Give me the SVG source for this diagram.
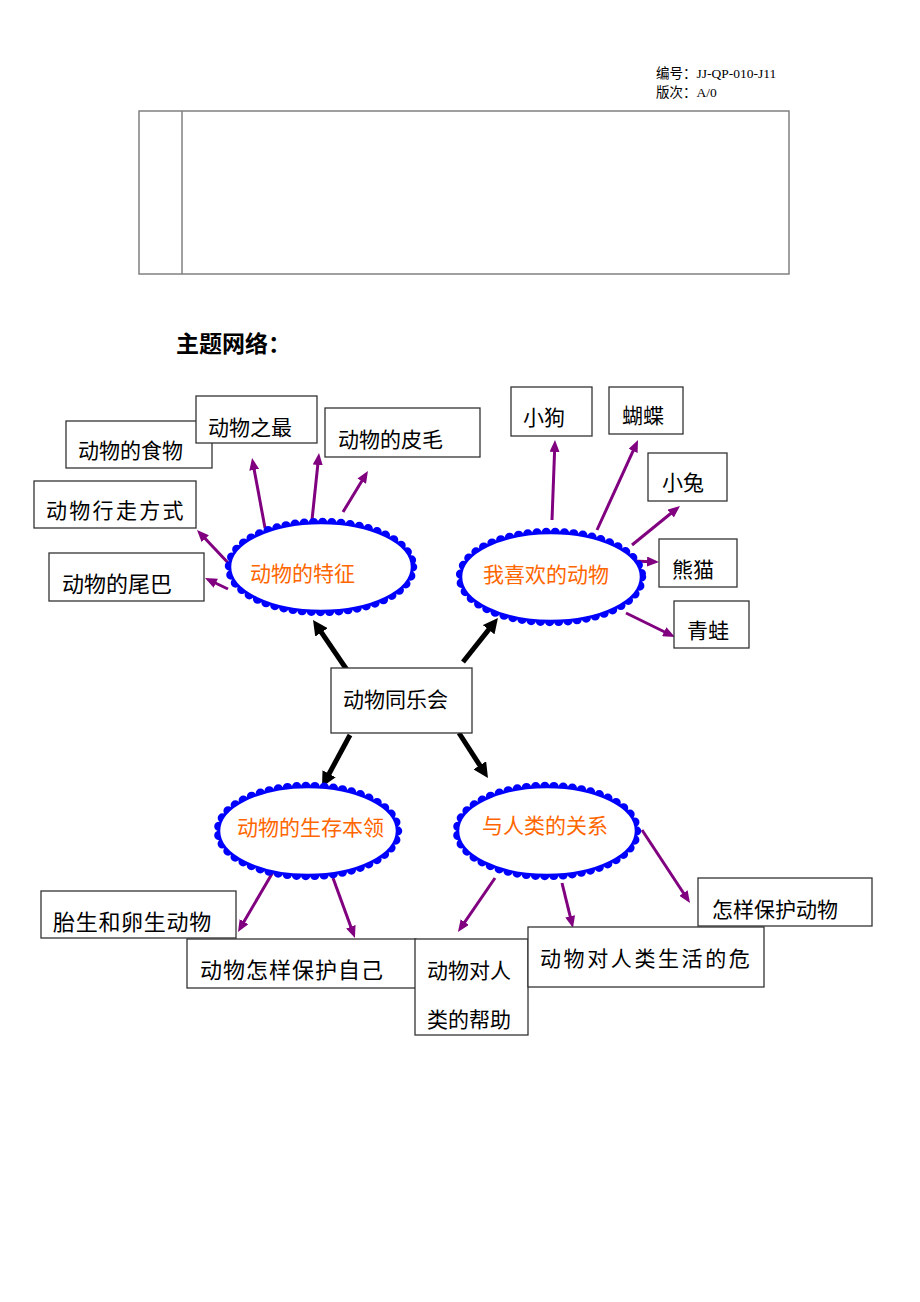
<svg xmlns="http://www.w3.org/2000/svg" width="920" height="1302" viewBox="0 0 920 1302">
<style>
.hdr{font-family:"Liberation Serif","Noto Sans CJK SC",serif;font-size:13.5px;fill:#000}
.title{font-family:"Noto Sans CJK SC",sans-serif;font-size:23px;font-weight:bold;fill:#000}
.box{fill:#fff;stroke:#333;stroke-width:1.3}
.bt{font-family:"Noto Sans CJK SC",sans-serif;font-size:21px;fill:#000}
.bt2{font-family:"Noto Sans CJK SC",sans-serif;font-size:22px;fill:#000}
.et{font-family:"Noto Sans CJK SC",sans-serif;font-size:21px;fill:#FF6600}
.dots{fill:none;stroke:#0000FF;stroke-width:9.5;stroke-dasharray:0 9.2;stroke-linecap:round}
.ell{fill:#fff;stroke:#0000FF;stroke-width:2.5}
.pl{stroke:#800080;stroke-width:3;fill:none;marker-end:url(#pa)}
.bl{stroke:#000;stroke-width:5;fill:none;marker-end:url(#ba)}
.tbl{fill:none;stroke:#808080;stroke-width:1.5}
</style>
<defs>
<marker id="pa" markerUnits="userSpaceOnUse" markerWidth="12" markerHeight="10" refX="4" refY="5" orient="auto"><path d="M0,0 L12,5 L0,10 z" fill="#800080"/></marker>
<marker id="ba" markerUnits="userSpaceOnUse" markerWidth="15" markerHeight="15" refX="4" refY="7.5" orient="auto"><path d="M0,0 L15,7.5 L0,15 z" fill="#000"/></marker>
</defs>
<rect width="920" height="1302" fill="#fff"/>
<g id="header">
<text class="hdr" x="656" y="78">编号：JJ-QP-010-J11</text>
<text class="hdr" x="656" y="97">版次：A/0</text>
</g>
<g id="table">
<rect class="tbl" x="139" y="111" width="650" height="163"/>
<line class="tbl" x1="182" y1="111" x2="182" y2="274"/>
</g>
<g id="title"><text class="title" x="176" y="352">主题网络：</text></g>

<g id="connectors">
<line class="pl" x1="265" y1="528" x2="253.5" y2="465.9"/>
<line class="pl" x1="312" y1="520" x2="318.2" y2="461"/>
<line class="pl" x1="343" y1="512" x2="363.8" y2="477.8"/>
<line class="pl" x1="232" y1="567" x2="202.5" y2="535.8"/>
<line class="pl" x1="228" y1="589" x2="212.2" y2="581.5"/>
<line class="pl" x1="552" y1="520" x2="554.7" y2="448"/>
<line class="pl" x1="597" y1="530" x2="634.7" y2="447.3"/>
<line class="pl" x1="632" y1="545" x2="673.8" y2="511"/>
<line class="pl" x1="633" y1="561" x2="651" y2="561.7"/>
<line class="pl" x1="626" y1="613" x2="667.8" y2="633.5"/>
<line class="pl" x1="273" y1="872" x2="242" y2="925.1"/>
<line class="pl" x1="333" y1="878" x2="352.2" y2="930.5"/>
<line class="pl" x1="495" y1="878" x2="462.5" y2="925.4"/>
<line class="pl" x1="562" y1="883" x2="571.1" y2="920.2"/>
<line class="pl" x1="642" y1="830" x2="685.6" y2="896.3"/>
<line class="bl" x1="347" y1="670" x2="319.2" y2="629.1"/>
<line class="bl" x1="463" y1="662" x2="491.1" y2="626.6"/>
<line class="bl" x1="350" y1="735" x2="327.2" y2="777.3"/>
<line class="bl" x1="459" y1="733" x2="482" y2="768.7"/>
</g>

<g id="e-tezheng">
<ellipse class="dots" cx="321" cy="567" rx="91.5" ry="44.5"/>
<ellipse class="ell" cx="321" cy="567" rx="91" ry="44"/>
<text class="et" x="250" y="581">动物的特征</text>
</g>
<g id="e-xihuan">
<ellipse class="dots" cx="551" cy="577" rx="90.5" ry="44.5"/>
<ellipse class="ell" cx="551" cy="577" rx="90" ry="44"/>
<text class="et" x="483" y="582">我喜欢的动物</text>
</g>
<g id="e-benling">
<ellipse class="dots" cx="308" cy="831" rx="89.5" ry="44.5"/>
<ellipse class="ell" cx="308" cy="831" rx="89" ry="44"/>
<text class="et" x="237" y="835">动物的生存本领</text>
</g>
<g id="e-guanxi">
<ellipse class="dots" cx="547" cy="831" rx="89.5" ry="44.5"/>
<ellipse class="ell" cx="547" cy="831" rx="89" ry="44"/>
<text class="et" x="482" y="833">与人类的关系</text>
</g>

<g id="center"><rect class="box" x="331" y="668" width="141" height="65"/><text class="bt" x="343" y="707">动物同乐会</text></g>

<g id="n-shiwu"><rect class="box" x="66" y="421" width="146" height="47"/><text class="bt" x="78" y="458">动物的食物</text></g>
<g id="n-zhizui"><rect class="box" x="196" y="396" width="121" height="47"/><text class="bt" x="208" y="435">动物之最</text></g>
<g id="n-pimao"><rect class="box" x="325" y="408" width="155" height="49"/><text class="bt" x="338" y="447">动物的皮毛</text></g>
<g id="n-xingzou"><rect class="box" x="34" y="481" width="162" height="47"/><text class="bt" x="46" y="518" letter-spacing="2.3">动物行走方式</text></g>
<g id="n-weiba"><rect class="box" x="49" y="553" width="155" height="48"/><text class="bt2" x="62" y="592">动物的尾巴</text></g>

<g id="n-xiaogou"><rect class="box" x="511" y="387" width="81" height="49"/><text class="bt" x="523" y="425">小狗</text></g>
<g id="n-hudie"><rect class="box" x="609" y="387" width="74" height="47"/><text class="bt" x="622" y="423">蝴蝶</text></g>
<g id="n-xiaotu"><rect class="box" x="648" y="453" width="79" height="48"/><text class="bt" x="662" y="490">小兔</text></g>
<g id="n-xiongmao"><rect class="box" x="659" y="539" width="78" height="48"/><text class="bt" x="672" y="577">熊猫</text></g>
<g id="n-qingwa"><rect class="box" x="674" y="601" width="75" height="47"/><text class="bt" x="687" y="638">青蛙</text></g>

<g id="n-taisheng"><rect class="box" x="41" y="891" width="195" height="47"/><text class="bt2" x="53" y="930" letter-spacing="0.7">胎生和卵生动物</text></g>
<g id="n-baohuziji"><rect class="box" x="187" y="939" width="229" height="49"/><text class="bt2" x="200" y="978" letter-spacing="1">动物怎样保护自己</text></g>
<g id="n-bangzhu"><rect class="box" x="415" y="939" width="113" height="96"/><text class="bt" x="427" y="978">动物对人</text><text class="bt" x="427" y="1027">类的帮助</text></g>
<g id="n-weihai"><rect class="box" x="528" y="927" width="236" height="60"/><text class="bt" x="540" y="966" letter-spacing="2.6">动物对人类生活的危</text></g>
<g id="n-baohudongwu"><rect class="box" x="698" y="878" width="174" height="48"/><text class="bt" x="712" y="917">怎样保护动物</text></g>
</svg>
